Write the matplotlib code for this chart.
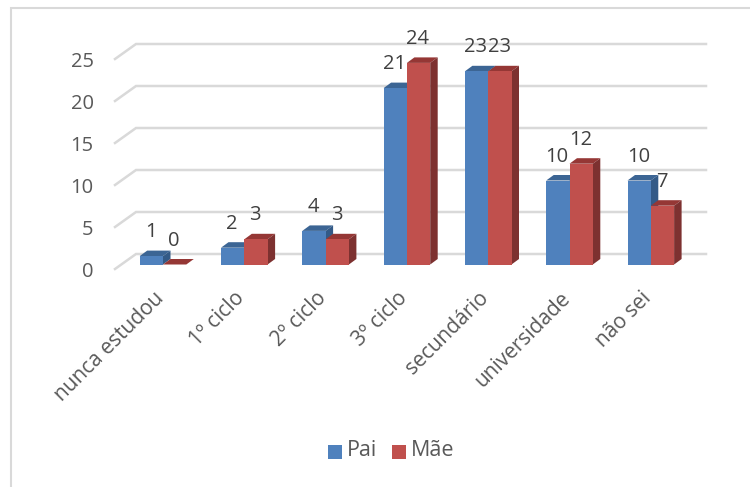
import numpy as np
import matplotlib
matplotlib.use("Agg")
import matplotlib.pyplot as plt
from matplotlib.patches import Polygon, Rectangle

categories = ["nunca estudou", "1º ciclo", "2º ciclo", "3º ciclo", "secundário", "universidade", "não sei"]
pai = [1, 2, 4, 21, 23, 10, 10]
mae = [0, 3, 3, 24, 23, 12, 7]
y_ticks = [0, 5, 10, 15, 20, 25]

W, H = 750, 487
X0_PX = 163.0      # centro do primeiro grupo
STEP_PX = 81.3
Y0_PX = 264.5
UNIT_PX = 8.4
BAR_W = 23.3 / STEP_PX

# profundidade do efeito 3D
DX = 7.5 / STEP_PX
DY = 5.5 / UNIT_PX

BLUE, BLUE_TOP, BLUE_SIDE = "#4f81bd", "#3c6594", "#335a87"
RED, RED_TOP, RED_SIDE = "#c0504d", "#953735", "#7d3130"
TEXT = "#595959"
LABEL = "#404040"
GRID = "#d9d9d9"
FS = 14.5

plt.rcParams["font.family"] = ["Open Sans", "DejaVu Sans"]

fig = plt.figure(figsize=(W / 100, H / 100), dpi=100)
ax = fig.add_axes([0, 0, 1, 1])
ax.set_xlim(-X0_PX / STEP_PX, (W - X0_PX) / STEP_PX)
ax.set_ylim(-(H - Y0_PX) / UNIT_PX, Y0_PX / UNIT_PX)
ax.axis("off")

px = 1 / STEP_PX
py = 1 / UNIT_PX

# moldura: só esquerda e topo aparecem na imagem
ax.plot([(11 - X0_PX) * px, (11 - X0_PX) * px, (W - X0_PX) * px],
        [(Y0_PX - H) * py, (Y0_PX - 8) * py, (Y0_PX - 8) * py],
        color=GRID, lw=1.5, solid_joinstyle="miter", zorder=1)

# grelha
left_front = (115 - X0_PX) * px
left_back = (136 - X0_PX) * px
right = (706 - X0_PX) * px
for v in y_ticks:
    yf = v - 4.5 * py
    yb = v + 10.5 * py
    ax.plot([left_front, left_back, right], [yf, yb, yb], color=GRID, lw=1.8,
            solid_joinstyle="miter", zorder=1)
    ax.text((93.5 - X0_PX) * px, v - 7.3 * py, str(v), ha="right", va="center",
            fontsize=FS, color=TEXT)


def draw_bar(x, v, front, top, side):
    ax.bar(x, v, BAR_W, align="edge", color=front, zorder=3)
    ax.add_patch(Polygon([(x, v), (x + DX, v + DY), (x + BAR_W + DX, v + DY), (x + BAR_W, v)],
                         color=top, lw=0, zorder=2.5))
    ax.add_patch(Polygon([(x + BAR_W, 0), (x + BAR_W + DX, DY), (x + BAR_W + DX, v + DY), (x + BAR_W, v)],
                         color=side, lw=0, zorder=2.5))


for i in range(len(categories)):
    draw_bar(i - BAR_W, pai[i], BLUE, BLUE_TOP, BLUE_SIDE)
    draw_bar(i, mae[i], RED, RED_TOP, RED_SIDE)
    ax.text(i - BAR_W + 11 * px, pai[i] + 24 * py, str(pai[i]), ha="center", va="center",
            fontsize=FS, color=LABEL, zorder=5)
    ax.text(i + 11 * px, mae[i] + 24 * py, str(mae[i]), ha="center", va="center",
            fontsize=FS, color=LABEL, zorder=5)
    ax.text(i - 10 * px, -23 * py, categories[i], rotation=45, rotation_mode="anchor",
            ha="right", va="top", fontsize=15, color=TEXT)

# legenda
ax.add_patch(Rectangle(((328 - X0_PX) * px, (Y0_PX - 459) * py), 14 * px, 14 * py, color=BLUE, lw=0))
ax.add_patch(Rectangle(((392 - X0_PX) * px, (Y0_PX - 459) * py), 14 * px, 14 * py, color=RED, lw=0))
ax.text((347 - X0_PX) * px, (Y0_PX - 451) * py, "Pai", va="center", fontsize=15.5, color=TEXT)
ax.text((411 - X0_PX) * px, (Y0_PX - 451) * py, "Mãe", va="center", fontsize=15.5, color=TEXT)

fig.savefig("out.png", dpi=100)
